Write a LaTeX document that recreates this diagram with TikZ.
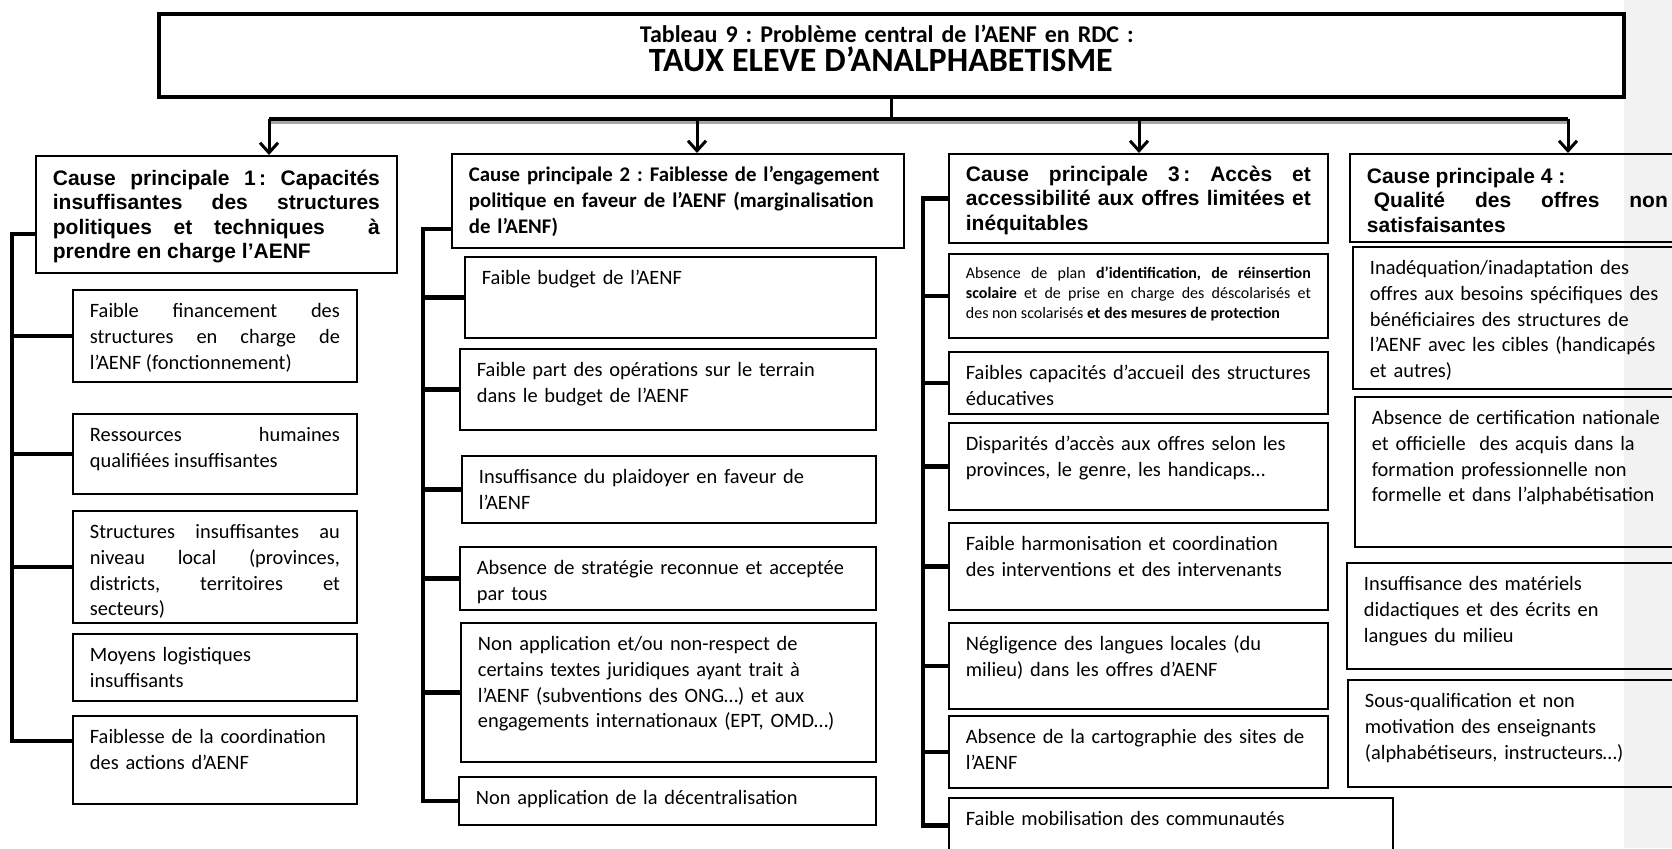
\documentclass[tikz,border=0pt]{standalone}
\usepackage{fontspec}
\setmainfont{Carlito}
\newfontfamily\arialf{Liberation Sans}
\usetikzlibrary{arrows.meta}
\frenchspacing
\begin{document}
\begin{tikzpicture}[x=0.5pt,y=-0.5pt,
  box/.style={draw,line width=0.9pt,anchor=north west,align=left,inner xsep=8.5pt,inner ysep=0pt},
  just/.style={align=justify,execute at begin node={\tolerance=10000\hyphenpenalty=10000}},
  sub/.style={box,font=\fontsize{10.2}{12.8}\selectfont,text height=14pt},
  hd/.style={box,font=\arialf\bfseries\fontsize{10.5}{12.2}\selectfont,text height=14.75pt},
  spine/.style={line width=2.2pt},
  arr/.style={line width=1.5pt,-{Straight Barb[length=5pt,width=9pt]}}]
\useasboundingbox (0,0) rectangle (1672,848);
\clip (0,0) rectangle (1672,848);
\fill [black!5] (1624,0) rectangle (1672,848);
% probleme central
\node [box,line width=2pt,text width=715.5pt,text height=14pt,text depth=27.5pt,
  font=\bfseries\fontsize{12}{14.8}\selectfont] (title) at (157,12)
  {\hspace*{232pt}Tableau 9 : Problème central de l’AENF en RDC :\\
   \hspace*{236.5pt}{\fontsize{17}{14.8}\selectfont TAUX ELEVE D’ANALPHABETISME}};
% causes principales
\node [hd,just,text width=163.5pt,text depth=43.75pt] (c1) at (35,155)
  {Cause principale 1\,: Capacités\linebreak insuffisantes des structures\linebreak
   politiques et techniques \ à\linebreak prendre en charge l’AENF};
\node [box,font=\bfseries\fontsize{10.4}{13}\selectfont,text height=14pt,text width=209pt,text depth=33pt] (c2) at (451,153)
  {Cause principale 2 : Faiblesse de l’engagement\\ politique en faveur de l’AENF (marginalisation\\ de l’AENF)};
\node [hd,just,text height=13.75pt,text width=172.5pt,text depth=30.75pt] (c3) at (948,153)
  {Cause principale 3\,: Accès et\linebreak accessibilité aux offres limitées et\linebreak inéquitables};
\node [hd,just,text width=150.5pt,text depth=29.25pt] (c4) at (1349,153)
  {Cause principale 4 :\\ \hspace*{3.5pt}Qualité des offres non\linebreak satisfaisantes};
% cause 1
\node [sub,just,text width=125pt,text depth=32pt] (c1a) at (72,289)
  {Faible financement des\linebreak structures en charge de\linebreak l’AENF (fonctionnement)};
\node [sub,just,text width=125pt,text depth=26pt] (c1b) at (72,413)
  {Ressources humaines\linebreak qualifiées insuffisantes};
\node [sub,just,text width=125pt,text depth=42pt] (c1c) at (72,510)
  {Structures insuffisantes au\linebreak niveau local (provinces,\linebreak districts, territoires et\linebreak secteurs)};
\node [sub,text width=125pt,text depth=19.5pt] (c1d) at (72,633) {Moyens logistiques\\ insuffisants};
\node [sub,text width=125pt,text depth=30pt] (c1e) at (72,715) {Faiblesse de la coordination\\ des actions d’AENF};
% cause 2
\node [sub,text width=188.5pt,text depth=26.5pt] (c2a) at (464,256) {Faible budget de l’AENF};
\node [sub,text width=191pt,text depth=26.5pt] (c2b) at (459,348)
  {Faible part des opérations sur le terrain\\ dans le budget de l’AENF};
\node [sub,text width=190pt,text depth=19.5pt] (c2c) at (461,455)
  {Insuffisance du plaidoyer en faveur de\\ l’AENF};
\node [sub,text width=191pt,text depth=17.5pt] (c2d) at (459,546)
  {Absence de stratégie reconnue et acceptée\\ par tous};
\node [sub,text width=190.5pt,text depth=55.5pt] (c2e) at (460,622)
  {Non application et/ou non-respect de\\ certains textes juridiques ayant trait à\\
   l’AENF (subventions des ONG…) et aux\\ engagements internationaux (EPT, OMD…)};
\node [sub,text width=191.5pt,text depth=10pt] (c2f) at (458,776) {Non application de la décentralisation};
% cause 3
\node [box,just,font=\fontsize{8}{10}\selectfont,text height=12.5pt,text width=172.5pt,text depth=29.5pt] (c3a) at (948,253)
  {\parfillskip=0pt Absence de plan \textbf{d’identification, de réinsertion}\linebreak
   \textbf{scolaire} et de prise en charge des déscolarisés et\linebreak
   des non scolarisés \textbf{et des mesures de protection}};
\node [sub,text width=172.5pt,text depth=17pt] (c3b) at (948,351)
  {Faibles capacités d’accueil des structures\\ éducatives};
\node [sub,text width=172.5pt,text depth=29.5pt] (c3c) at (948,422)
  {Disparités d’accès aux offres selon les\\ provinces, le genre, les handicaps…};
\node [sub,text width=172.5pt,text depth=29.5pt] (c3d) at (948,522)
  {Faible harmonisation et coordination\\ des interventions et des intervenants};
\node [sub,text width=172.5pt,text depth=29pt] (c3e) at (948,622)
  {Négligence des langues locales (du\\ milieu) dans les offres d’AENF};
\node [sub,text width=172.5pt,text depth=22pt] (c3f) at (948,715)
  {Absence de la cartographie des sites de\\ l’AENF};
\node [sub,text width=205pt,text depth=13.5pt] (c3g) at (948,797) {Faible mobilisation des communautés};
% cause 4
\node [sub,text width=157pt,text depth=57pt] (c4a) at (1352,246)
  {Inadéquation/inadaptation des\\ offres aux besoins spécifiques des\\ bénéficiaires des structures de\\
   l’AENF avec les cibles (handicapés\\ et autres)};
\node [sub,text width=156pt,text depth=61pt] (c4b) at (1354,396)
  {Absence de certification nationale\\ et officielle \ des acquis dans la\\
   formation professionnelle non\\ formelle et dans l’alphabétisation};
\node [sub,text width=160pt,text depth=39pt] (c4c) at (1346,562)
  {Insuffisance des matériels\\ didactiques et des écrits en\\ langues du milieu};
\node [sub,text width=159.5pt,text depth=39.5pt] (c4d) at (1347,679)
  {Sous-qualification et non\\ motivation des enseignants\\ (alphabétiseurs, instructeurs…)};
% barre de distribution
\coordinate (b1) at (269,119); \coordinate (b2) at (697,119);
\coordinate (b3) at (1139,119); \coordinate (b4) at (1568,119);
\draw [line width=1.5pt,black!35] ([yshift=-1.6pt]b1) -- ([yshift=-1.6pt]b4);
\draw [line width=2pt] (b1) -- (b4);
\draw [line width=1.6pt] (title.south) -- (title.south |- b1);
\foreach \b/\c in {b1/c1,b2/c2,b3/c3,b4/c4}
  \draw [arr] (\b) -- (\b |- \c.north);
% lignes de rattachement
\coordinate (s1) at (12,234); \coordinate (t1) at (12,741);
\draw [spine] (c1.west |- s1) -- (s1) -- (t1) -- (t1 -| c1e.west);
\foreach \n in {a,b,c} \draw [spine] (c1\n.west) -- (c1\n.west -| s1);
\coordinate (s2) at (423,229);
\draw [spine] (c2.west |- s2) -- (s2) -- (s2 |- c2f.west) -- (c2f.west);
\foreach \n in {a,...,e} \draw [spine] (c2\n.west) -- (c2\n.west -| s2);
\coordinate (s3) at (923,0);
\draw [spine] (c3.west) -| (s3 |- c3g.west) -- (c3g.west);
\foreach \n in {a,...,f} \draw [spine] (c3\n.west) -- (c3\n.west -| s3);
\end{tikzpicture}
\end{document}
